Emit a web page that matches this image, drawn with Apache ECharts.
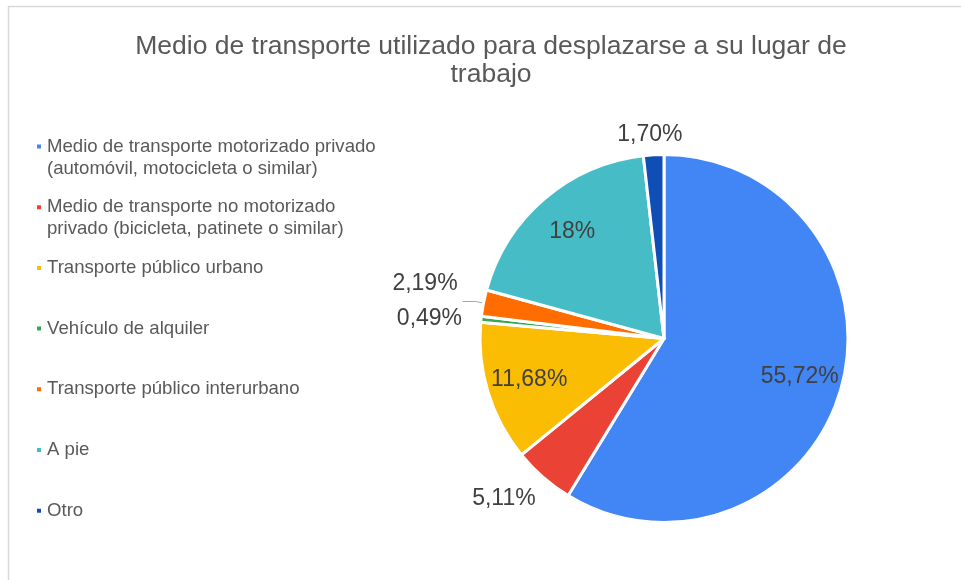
<!DOCTYPE html>
<html>
<head>
<meta charset="utf-8">
<script src="https://cdn.jsdelivr.net/npm/echarts@6/dist/echarts.min.js"></script>
<style>
    html, body { margin: 0; padding: 0; background: #fff; }
    #chart { width: 961px; height: 580px; }
</style>
</head>
<body>
<div id="chart"></div>
<script>
const categories = [
    'Medio de transporte motorizado privado (automóvil, motocicleta o similar)',
    'Medio de transporte no motorizado privado (bicicleta, patinete o similar)',
    'Transporte público urbano',
    'Vehículo de alquiler',
    'Transporte público interurbano',
    'A pie',
    'Otro'
]
const legendLabels = [
    ['Medio de transporte motorizado privado', '(automóvil, motocicleta o similar)'],
    ['Medio de transporte no motorizado', 'privado (bicicleta, patinete o similar)'],
    ['Transporte público urbano'],
    ['Vehículo de alquiler'],
    ['Transporte público interurbano'],
    ['A pie'],
    ['Otro']
]
const values = [55.72, 5.11, 11.68, 0.49, 2.19, 18, 1.70]
const colors = ['#4285f4', '#ea4335', '#fbbc04', '#34a853', '#ff6d01', '#46bdc6', '#0e4eb5']

const FONT = 'Liberation Sans, Arial, sans-serif'

// which slices get their label inside, and how the outside ones sit
const insideIdx = [0, 2, 5]
const outsideCfg = {
    1: { len: 28, len2: 0, dist: -11 },
    3: { len: 7, len2: 7, dist: 5 },
    4: { len: 8, len2: 13, dist: 5, line: true },
    6: { len: 20, len2: 0, dist: -30 }
}

const fmtPct = (v) => (Number.isInteger(v) ? String(v) : v.toFixed(2).replace('.', ',')) + '%'

const labelText = {
    fontSize: 23,
    color: '#404040',
    fontFamily: FONT
}

const CENTER = [664, 338.5]
const R = 184
const LINE_H = 22

const myChart = echarts.init(document.getElementById('chart'), null, { renderer: 'canvas' })

// one legend per item so every icon sits on the first line of its text
const legends = categories.map((name, i) => {
    const lines = legendLabels[i]
    const iconY = 146.5 + i * 60.7
    // a blank line on top keeps the first text line level with the icon
    const text = lines.length > 1 ? '\n' + lines.join('\n') : lines[0]
    const boxH = lines.length > 1 ? (2 * lines.length - 1) * LINE_H : LINE_H
    return {
        orient: 'vertical',
        left: 35,
        top: iconY - boxH / 2,
        padding: 0,
        itemWidth: 6,
        itemHeight: 6,
        icon: 'rect',
        selectedMode: false,
        data: [name],
        formatter: () => text,
        textStyle: {
            fontSize: 18.6,
            lineHeight: LINE_H,
            color: '#595959',
            fontFamily: FONT
        }
    }
})

const option = {
    animation: false,
    color: colors,
    title: {
        text: 'Medio de transporte utilizado para desplazarse a su lugar de\ntrabajo',
        left: 486,
        top: 28,
        textAlign: 'center',
        textStyle: {
            fontSize: 26.5,
            lineHeight: 28,
            fontWeight: 'normal',
            color: '#595959',
            fontFamily: FONT
        }
    },
    legend: legends,
    graphic: [{
        type: 'rect',
        silent: true,
        shape: { x: 8.5, y: 6.5, width: 1000, height: 1000 },
        style: { fill: 'none', stroke: '#d9d9d9', lineWidth: 1.5 }
    }],
    series: [
        {
            name: 'slices',
            type: 'pie',
            center: CENTER,
            radius: R,
            startAngle: 90,
            clockwise: true,
            avoidLabelOverlap: false,
            labelLayout: { hideOverlap: false },
            emphasis: { disabled: true },
            itemStyle: { borderColor: '#fff', borderWidth: 3 },
            label: {
                show: true,
                position: 'outside',
                ...labelText,
                formatter: (p) => fmtPct(p.value)
            },
            labelLine: { show: false },
            data: values.map((v, i) => {
                const cfg = outsideCfg[i]
                if (!cfg) return { name: categories[i], value: v, label: { show: false } }
                const item = {
                    name: categories[i],
                    value: v,
                    label: { distanceToLabelLine: cfg.dist },
                    labelLine: {
                        show: !!cfg.line,
                        length: cfg.len,
                        length2: cfg.len2,
                        lineStyle: { color: '#a6a6a6', width: 1 }
                    }
                }
                if (cfg.line) {
                    // lift the text above the end of its leader line
                    item.label.formatter = (p) => '{t|' + fmtPct(p.value) + '}\n{s| }'
                    item.label.rich = {
                        t: { ...labelText },
                        s: { fontSize: 10, height: 36 }
                    }
                }
                return item
            })
        },
        {
            // transparent ring only used to place the inside labels
            name: 'inside labels',
            type: 'pie',
            center: CENTER,
            radius: [R / 2, R],
            startAngle: 90,
            clockwise: true,
            silent: true,
            legendHoverLink: false,
            emphasis: { disabled: true },
            itemStyle: { color: 'rgba(0,0,0,0)', borderWidth: 0 },
            label: {
                show: true,
                position: 'inside',
                ...labelText,
                formatter: (p) => fmtPct(p.value)
            },
            labelLine: { show: false },
            data: values.map((v, i) => ({
                name: categories[i],
                value: v,
                label: { show: insideIdx.includes(i) }
            }))
        }
    ]
}

myChart.setOption(option)
</script>
</body>
</html>
